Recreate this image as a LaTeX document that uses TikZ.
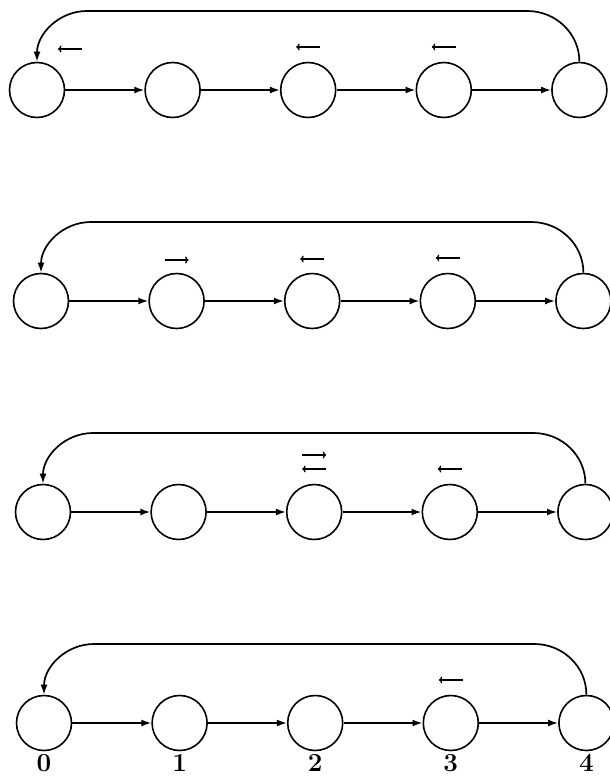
\documentclass[tikz,border=0pt]{standalone}
\usetikzlibrary{arrows.meta,calc}
\begin{document}
\begin{tikzpicture}[x=1pt,y=-1pt,
  st/.style={circle,draw,line width=1.6pt,minimum size=55pt,inner sep=0pt},
  edge/.style={line width=1.7pt,-{Latex[length=10pt,width=7pt]}},
  hint/.style={line width=1.3pt,-{To[length=3.5pt,width=7pt]}},
  lab/.style={font=\fontsize{26}{30}\selectfont\bfseries,inner sep=0pt}]
\useasboundingbox (0,0) rectangle (610,776);
\foreach \r/\y/\xo in {1/90/37, 2/301/41, 3/512/43, 4/723/44}{
  \foreach \i in {0,...,4}{
    \node[st] (n\r-\i) at ({\xo+\i*135.6},\y) {};
  }
  \foreach \i/\j in {0/1,1/2,2/3,3/4}{
    \draw[edge] (n\r-\i) -- (n\r-\j);
  }
  \coordinate (tr\r) at ({\xo+4*135.6-52},{\y-79});
  \coordinate (tl\r) at ({\xo+50},{\y-79});
  \draw[edge] (n\r-4.north) to[out=90,in=0] (tr\r) -- (tl\r) to[out=180,in=90] (n\r-0.north);
}
% row 1 hints
\draw[hint] ([shift={(45,-41)}]n1-0.center) -- ++(-24,0);
\draw[hint] ([shift={(12,-43)}]n1-2.center) -- ++(-24,0);
\draw[hint] ([shift={(12,-43)}]n1-3.center) -- ++(-24,0);
% row 2 hints
\draw[hint] ([shift={(-12,-41)}]n2-1.center) -- ++(24,0);
\draw[hint] ([shift={(12,-42)}]n2-2.center) -- ++(-24,0);
\draw[hint] ([shift={(12,-43)}]n2-3.center) -- ++(-24,0);
% row 3 hints
\draw[hint] ([shift={(-12,-57)}]n3-2.center) -- ++(24,0);
\draw[hint] ([shift={(12,-43)}]n3-2.center) -- ++(-24,0);
\draw[hint] ([shift={(12,-43)}]n3-3.center) -- ++(-24,0);
% row 4 hints
\draw[hint] ([shift={(12,-43)}]n4-3.center) -- ++(-24,0);
% labels
\foreach \i in {0,...,4}{
  \node[lab] (l\i) at ([yshift=-40]n4-\i.center) {\i};
}
\end{tikzpicture}
\end{document}
